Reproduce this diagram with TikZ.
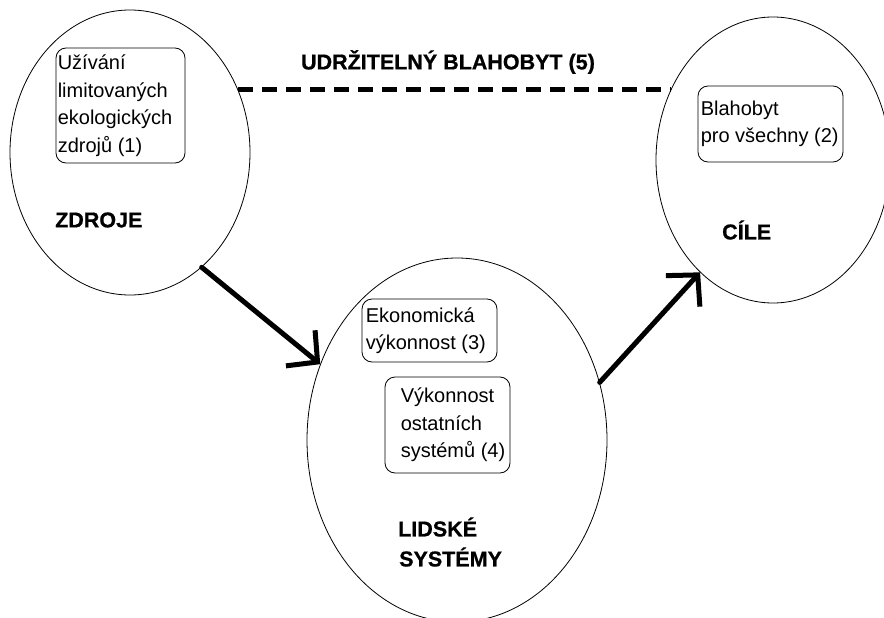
\documentclass[tikz,border=0pt]{standalone}
\usepackage{fontspec}
\setmainfont{Liberation Sans}[BoldFeatures={FakeBold=0.8}]
\usetikzlibrary{shapes.geometric,arrows.meta}
\begin{document}
\begin{tikzpicture}[x=1pt,y=-1pt,
  circ/.style={draw, ellipse, line width=0.8pt, inner sep=0pt},
  boxnode/.style={draw, rounded corners=10pt, line width=0.8pt, inner sep=0pt},
  txt/.style={inner sep=0pt, anchor=west, align=left, font=\fontsize{20}{27.5}\selectfont},
  lbl/.style={inner sep=0pt, anchor=west, align=left, font=\fontsize{21.5}{30}\selectfont\bfseries},
  bigarrow/.style={line width=5pt, line cap=round, -{Straight Barb[length=22pt,width=46pt]}},
  dashline/.style={line width=5pt, dash pattern=on 15pt off 9pt}
]
\useasboundingbox (0,0) rectangle (884,618);
\clip (0,0) rectangle (884,618);
\fill[white] (0,0) rectangle (884,618);

% ellipses
\node[circ, minimum width=240pt, minimum height=285pt] (zdroje) at (130,152.5) {};
\node[circ, minimum width=234pt, minimum height=286pt] (cile) at (773,160) {};
\node[circ, minimum width=300pt, minimum height=364pt] (lidske) at (457,440) {};

% boxes
\node[boxnode, minimum width=129pt, minimum height=115pt] (b1) at (120.5,105.5) {};
\node[txt, xshift=2pt] (t1) at (b1.west) {Užívání\\limitovaných\\ekologických\\zdrojů (1)};

\node[boxnode, minimum width=145pt, minimum height=76pt] (b2) at (770.5,124) {};
\node[txt, xshift=3pt] (t2) at (b2.west) {Blahobyt\\pro všechny (2)};

\node[boxnode, minimum width=135pt, minimum height=63pt] (b3) at (429.5,330.5) {};
\node[txt, xshift=4pt] (t3) at (b3.west) {Ekonomická\\výkonnost (3)};

\node[boxnode, minimum width=125pt, minimum height=96pt] (b4) at (447.5,425) {};
\node[txt, xshift=16pt] (t4) at (b4.west) {Výkonnost\\ostatních\\systémů (4)};

% labels
\node[lbl] (lz) at (55,220) {ZDROJE};
\node[lbl] (lc) at (722,230) {CÍLE};
\node[lbl] (ll) at (398,542) {LIDSKÉ\\\hspace{1pt}SYSTÉMY};
\node[lbl, anchor=center] (title) at (448,62) {UDRŽITELNÝ BLAHOBYT (5)};

% connectors
\draw[dashline] (zdroje.30) -- (zdroje.30 -| cile.145);
\draw[bigarrow] (zdroje.-58) -- (lidske.151);
\draw[bigarrow] (lidske.22) -- (cile.237);
\end{tikzpicture}
\end{document}
